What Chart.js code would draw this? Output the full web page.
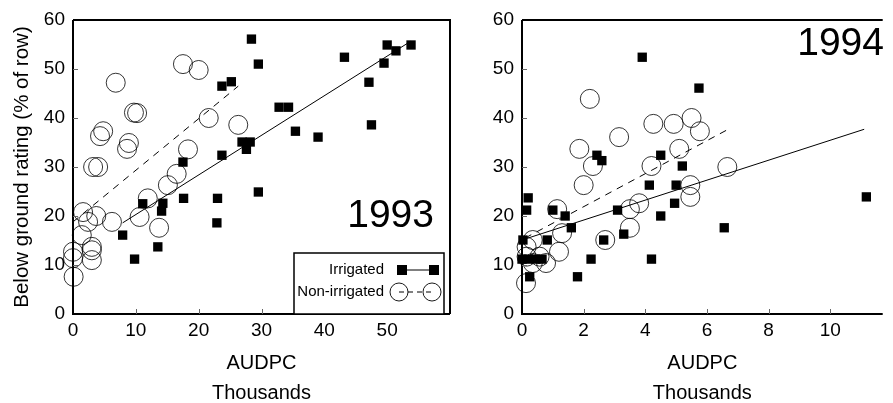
<!DOCTYPE html>
<html lang="en">
<head>
  <meta charset="UTF-8">
  <title>AUDPC vs below ground rating</title>
  <style>
    body { margin: 0; background: #fff; }
    .chart-box { position: absolute; top: 0; height: 403px; }
    #left { left: 0; width: 470px; }
    #right { left: 470px; width: 423px; }
  </style>
</head>
<body>
  <div class="chart-box" id="left"><canvas id="chart93" width="470" height="403"></canvas></div>
  <div class="chart-box" id="right"><canvas id="chart94" width="423" height="403"></canvas></div>

  <script src="https://cdn.jsdelivr.net/npm/chart.js"></script>
  <script>
    // 1993 (AUDPC in thousands, rating in % of row)
    const irr93X = [28.4, 29.5, 32.8, 34.3, 35.4, 39, 43.2, 50, 51.4, 53.8, 49.5, 47.1, 47.5, 26.9, 28.2, 27.6, 23.7, 25.2, 23.7, 17.5, 29.5, 17.6, 23, 22.9, 11.1, 14.1, 14.3, 7.9, 13.5, 9.8];
    const irr93Y = [56.1, 51, 42.2, 42.2, 37.3, 36.1, 52.4, 54.9, 53.7, 54.9, 51.2, 47.3, 38.6, 35.1, 35.1, 33.6, 46.5, 47.4, 32.4, 31, 24.9, 23.6, 23.6, 18.6, 22.5, 21, 22.6, 16.1, 13.7, 11.2];
    const non93X = [6.8, 17.5, 20, 9.7, 10.2, 4.8, 4.3, 8.9, 8.6, 21.6, 26.3, 18.3, 4, 3.2, 16.5, 15.1, 11.9, 10.6, 13.7, 6.2, 3.7, 1.6, 2.4, 1.4, 3, 3, 0, 0, 3, 0.1];
    const non93Y = [47.2, 51, 49.8, 41.1, 41, 37.3, 36.3, 34.9, 33.7, 40, 38.6, 33.6, 30, 30, 28.6, 26.3, 23.6, 19.8, 17.6, 18.8, 20, 20.8, 18.8, 16.1, 13.7, 13, 12.7, 11.4, 11, 7.6];
    const fitIrr93X = [7.9, 53.8];
    const fitIrr93Y = [18.6, 55.7];
    const fitNon93X = [0, 26.3];
    const fitNon93Y = [18.8, 46.5];

    // 1994
    const irr94X = [3.9, 2.43, 2.59, 4.5, 5.2, 5.74, 0.2, 0.15, 1.0, 1.4, 1.6, 0.03, 0.82, 3.1, 2.65, 3.3, 4.13, 5.0, 4.95, 4.5, 0.0, 0.2, 0.45, 0.65, 0.25, 2.24, 1.8, 4.2, 6.56, 11.17];
    const irr94Y = [52.4, 32.4, 31.3, 32.4, 30.2, 46.1, 23.7, 21.2, 21.2, 20, 17.6, 15.1, 15.1, 21.2, 15.1, 16.3, 26.3, 26.3, 22.6, 20, 11.2, 11.2, 11.2, 11.2, 7.6, 11.2, 7.6, 11.2, 17.6, 23.9];
    const non94X = [2.2, 1.86, 3.15, 4.26, 4.92, 5.5, 5.77, 5.1, 2.3, 4.2, 2.0, 3.8, 3.5, 3.5, 2.7, 1.14, 1.3, 1.2, 0.78, 0.35, 0.15, 0.15, 0.57, 0.35, 0.13, 5.46, 5.46, 6.66];
    const non94Y = [43.9, 33.7, 36.1, 38.8, 38.8, 40, 37.3, 33.7, 30.2, 30.2, 26.3, 22.6, 21.4, 17.6, 15.1, 21.4, 16.5, 12.7, 10.4, 15.1, 13.7, 11.7, 11.7, 10.4, 6.3, 26.3, 23.9, 30];
    const fitIrr94X = [0, 11.1];
    const fitIrr94Y = [15.1, 37.7];
    const fitNon94X = [0.1, 6.66];
    const fitNon94Y = [15.5, 37.6];

    const yTicks = [0, 10, 20, 30, 40, 50, 60];
    const FONT = "'Liberation Sans', Arial, sans-serif";

    const pts = (xs, ys) => xs.map((x, i) => ({x, y: ys[i]}));

    // Frame, inner tick marks and free text.
    const decorPlugin = {
      id: 'decor',
      afterDraw(chart, args, opts) {
        const {ctx, chartArea: a, scales} = chart;
        ctx.save();
        ctx.strokeStyle = '#000';
        ctx.lineWidth = 2;
        ctx.beginPath();
        ctx.moveTo(a.left, a.top);
        ctx.lineTo(a.left, a.bottom);
        ctx.lineTo(a.right, a.bottom);
        ctx.moveTo(a.left, a.top);
        ctx.lineTo(a.right, a.top);
        if (opts.fullBox) {
          ctx.lineTo(a.right, a.bottom);
        }
        ctx.stroke();

        // small ticks pointing inward
        ctx.lineWidth = 1;
        ctx.strokeStyle = '#666';
        ctx.beginPath();
        scales.x.ticks.forEach(t => {
          if (t.value <= scales.x.min || t.value >= scales.x.max) return;
          const px = Math.round(scales.x.getPixelForValue(t.value)) + 0.5;
          ctx.moveTo(px, a.bottom);
          ctx.lineTo(px, a.bottom - 5);
        });
        scales.y.ticks.forEach(t => {
          if (t.value <= scales.y.min || t.value >= scales.y.max) return;
          const py = Math.round(scales.y.getPixelForValue(t.value)) + 0.5;
          ctx.moveTo(a.left, py);
          ctx.lineTo(a.left + 5, py);
        });
        ctx.stroke();

        // x axis titles
        ctx.fillStyle = '#000';
        ctx.font = `20px ${FONT}`;
        ctx.textAlign = 'center';
        ctx.textBaseline = 'middle';
        const cx = (a.left + a.right) / 2;
        ctx.fillText('AUDPC', cx, 363);
        ctx.fillText('Thousands', cx, 393);

        // year label
        ctx.font = `39px ${FONT}`;
        ctx.textAlign = 'right';
        ctx.textBaseline = 'alphabetic';
        ctx.fillText(opts.year, opts.yearX, opts.yearY);

        if (opts.legend) drawLegend(ctx, a);
        ctx.restore();
      }
    };

    function drawLegend(ctx, a) {
      const l = 294, t = 253, r = 444, b = a.bottom;
      ctx.fillStyle = '#fff';
      ctx.fillRect(l, t, r - l, b - t);
      ctx.strokeStyle = '#000';
      ctx.lineWidth = 1.5;
      ctx.strokeRect(l, t, r - l, b - t);

      ctx.fillStyle = '#000';
      ctx.font = `15px ${FONT}`;
      ctx.textAlign = 'right';
      ctx.textBaseline = 'middle';
      ctx.fillText('Irrigated', 384, 270);
      ctx.fillText('Non-irrigated', 384, 292);

      // irrigated sample
      ctx.lineWidth = 1;
      ctx.beginPath();
      ctx.moveTo(402, 270);
      ctx.lineTo(434, 270);
      ctx.stroke();
      ctx.fillRect(397, 265, 10, 10);
      ctx.fillRect(429, 265, 10, 10);

      // non-irrigated sample
      ctx.setLineDash([5, 4]);
      ctx.beginPath();
      ctx.moveTo(399, 292);
      ctx.lineTo(432, 292);
      ctx.stroke();
      ctx.setLineDash([]);
      ctx.lineWidth = 0.9;
      [399, 432].forEach(cx => {
        ctx.beginPath();
        ctx.arc(cx, 292, 9, 0, Math.PI * 2);
        ctx.stroke();
      });
    }

    function makeChart(id, cfg) {
      const datasets = [
        {
          label: 'Irrigated',
          data: pts(cfg.irrX, cfg.irrY),
          pointStyle: 'rect',
          pointRadius: 6.6,
          backgroundColor: '#000',
          borderWidth: 0,
          clip: false
        },
        {
          label: 'Non-irrigated',
          data: pts(cfg.nonX, cfg.nonY),
          pointStyle: 'circle',
          pointRadius: 9.5,
          backgroundColor: 'rgba(0,0,0,0)',
          borderColor: '#000',
          borderWidth: 0.8,
          clip: false
        },
        {
          label: 'fit irrigated',
          data: pts(cfg.fitIrrX, cfg.fitIrrY),
          showLine: true,
          pointRadius: 0,
          borderColor: '#000',
          borderWidth: 1
        },
        {
          label: 'fit non-irrigated',
          data: pts(cfg.fitNonX, cfg.fitNonY),
          showLine: true,
          pointRadius: 0,
          borderColor: '#000',
          borderWidth: 1,
          borderDash: [7, 6]
        }
      ];

      return new Chart(document.getElementById(id), {
        type: 'scatter',
        data: {datasets},
        options: {
          responsive: false,
          animation: false,
          events: [],
          layout: {padding: {top: 20, right: cfg.padRight, bottom: 0, left: 0}},
          plugins: {
            legend: {display: false},
            tooltip: {enabled: false},
            decor: cfg.decor
          },
          scales: {
            x: {
              type: 'linear',
              min: 0,
              max: cfg.xMax,
              afterFit: s => { s.height = 89; },
              afterBuildTicks: s => {
                s.ticks = cfg.xTicks.map(v => ({value: v}));
              },
              grid: {display: false, drawTicks: false},
              border: {display: false},
              ticks: {
                color: '#000',
                font: {family: FONT, size: 19},
                padding: 5,
                autoSkip: false,
                maxRotation: 0
              }
            },
            y: {
              min: 0,
              max: 60,
              afterFit: s => { s.width = cfg.yWidth; },
              afterBuildTicks: s => {
                s.ticks = yTicks.map(v => ({value: v}));
              },
              grid: {display: false, drawTicks: false},
              border: {display: false},
              title: {
                display: cfg.yTitle,
                text: 'Below ground rating (% of row)',
                color: '#000',
                font: {family: FONT, size: 20.5},
                padding: {top: 10, bottom: 0}
              },
              ticks: {
                color: '#000',
                font: {family: FONT, size: 19},
                padding: 8
              }
            }
          }
        },
        plugins: [decorPlugin]
      });
    }

    const chart93 = makeChart('chart93', {
      irrX: irr93X, irrY: irr93Y, nonX: non93X, nonY: non93Y,
      fitIrrX: fitIrr93X, fitIrrY: fitIrr93Y, fitNonX: fitNon93X, fitNonY: fitNon93Y,
      xMax: 60, xTicks: [0, 10, 20, 30, 40, 50], padRight: 20, yWidth: 73, yTitle: true,
      decor: {fullBox: true, year: '1993', yearX: 434, yearY: 227, legend: true}
    });

    const chart94 = makeChart('chart94', {
      irrX: irr94X, irrY: irr94Y, nonX: non94X, nonY: non94Y,
      fitIrrX: fitIrr94X, fitIrrY: fitIrr94Y, fitNonX: fitNon94X, fitNonY: fitNon94Y,
      xMax: 11.7, xTicks: [0, 2, 4, 6, 8, 10], padRight: 0, yWidth: 52, yTitle: false,
      decor: {fullBox: false, year: '1994', yearX: 414, yearY: 55, legend: false}
    });
  </script>
</body>
</html>
